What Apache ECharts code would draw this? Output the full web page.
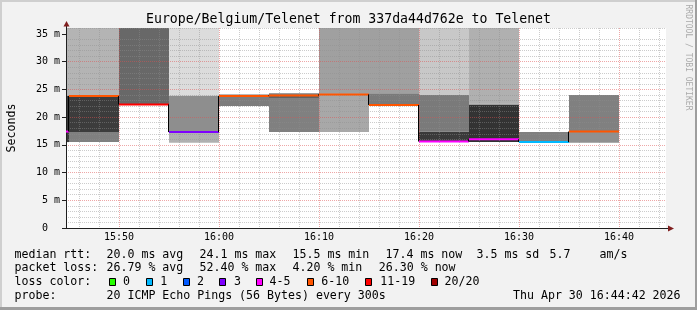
<!DOCTYPE html>
<html><head><meta charset="utf-8">
<script src="https://cdn.jsdelivr.net/npm/echarts@6/dist/echarts.min.js"></script>
<style>html,body{margin:0;padding:0;background:#f2f2f2}#c{width:697px;height:310px}</style>
</head><body><div id="c"></div>
<script>
// ---------------- data ----------------
const chartTitle = 'Europe/Belgium/Telenet from 337da44d762e to Telenet';
const yAxisTitle = 'Seconds';
const windowStart = '15:44:42';
const windowEnd = '16:44:42';
const yMaxMs = 36.08;
const stepMinutes = 5;
const segStart = ['15:40','15:45','15:50','15:55','16:00','16:05','16:10','16:15','16:20','16:25','16:30','16:35'];
const medianMs = [17.4, 23.8, 22.3, 17.3, 23.8, 23.9, 24.1, 22.2, 15.6, 16.0, 15.5, 17.4];
const lossPct  = [20, 30, 52.4, 14, 30, 28, 32, 35, 22, 20, 4.2, 26.3];
// smoke: ping-distribution band edges (ms) per step, and the grey density of each band
const smokeEdges = [
  [15.5, 23.9, 40],
  [15.5, 17.3, 23.9, 40],
  [22.3, 40],
  [15.4, 17.3, 23.9, 40],
  [22.0, 23.8, 24.1],
  [17.3, 23.3, 23.9, 24.3],
  [17.3, 24.0, 24.3, 40],
  [22.2, 24.3, 40],
  [15.6, 17.4, 24.0, 40],
  [15.5, 22.2, 22.5, 40],
  [15.5, 17.3],
  [15.4, 17.4, 24.0]
];
const smokeShade = [
  [0x3a, 0xb4],
  [0x80, 0x3c, 0xb4],
  [0x68],
  [0xb0, 0x8e, 0xdc],
  [0x7c, 0x74],
  [0x80, 0x60, 0x7c],
  [0xa8, 0x8c, 0xa0],
  [0x7a, 0xa0],
  [0x3a, 0x7a, 0xc8],
  [0x33, 0xa0, 0xb0],
  [0x80],
  [0x90, 0x80]
];
const lossLabels = ['0','1','2','3','4-5','6-10','11-19','20/20'];
const lossUpper  = [0, 1, 2, 3, 5, 10, 19, 20];
const lossColors = ['#26ff00','#00b8ff','#0059ff','#7e00ff','#ff00ff','#ff5500','#ff0000','#a00000'];
const pingsPerStep = 20;
const legendLines = [
  ['median rtt:', '20.0 ms avg', '24.1 ms max', '15.5 ms min', '17.4 ms now', '3.5 ms sd', '5.7', 'am/s'],
  ['packet loss:', '26.79 % avg', '52.40 % max', '4.20 % min', '26.30 % now'],
  ['loss color:'],
  ['probe:', '20 ICMP Echo Pings (56 Bytes) every 300s', 'Thu Apr 30 16:44:42 2026']
];
const watermark = 'RRDTOOL / TOBI OETIKER';

// ---------------- helpers ----------------
function toMin(s){ const p = s.split(':').map(Number); return p[0]*60 + p[1] + (p[2]||0)/60; }
function fmtMin(v){ const h = Math.floor(v/60), m = Math.round(v - h*60); return String(h).padStart(2,'0') + ':' + String(m).padStart(2,'0'); }
function lossIndex(pct){
  const n = pct/100*pingsPerStep;
  for (let i = 0; i < lossUpper.length; i++) if (n <= lossUpper[i]) return i;
  return lossUpper.length-1;
}

const xMin = toMin(windowStart), xMax = toMin(windowEnd);
const smokeData = [];
segStart.forEach((s, i) => {
  const t0 = toMin(s), e = smokeEdges[i];
  for (let k = 0; k < e.length - 1; k++) smokeData.push([t0, t0 + stepMinutes, e[k], e[k+1], smokeShade[i][k]]);
});
const medianData = segStart.map((s, i) => {
  const t0 = toMin(s);
  return [t0, t0 + stepMinutes, medianMs[i], i > 0 ? medianMs[i-1] : -1, lossIndex(lossPct[i])];
});

const MONO = 'DejaVu Sans Mono';
const chart = echarts.init(document.getElementById('c'), null, {renderer: 'canvas'});

// legend graphics
const colX = [14.5, 106.5, 199.5, 292.5, 385.5, 476.5, 549.5, 599.5];
const rowY = [254.5, 268, 282, 296];
const graphics = [];
// frame
graphics.push({type:'rect', shape:{x:0,y:0,width:697,height:2}, style:{fill:'#cfcfcf'}, silent:true});
graphics.push({type:'rect', shape:{x:0,y:0,width:2,height:310}, style:{fill:'#cfcfcf'}, silent:true});
graphics.push({type:'rect', shape:{x:0,y:307,width:697,height:3}, style:{fill:'#9e9e9e'}, silent:true});
graphics.push({type:'rect', shape:{x:695,y:0,width:2,height:310}, style:{fill:'#9e9e9e'}, silent:true});
legendLines.forEach((row, r) => {
  row.forEach((txt, c) => {
    let x = colX[c];
    if (r === 1 && c === 4) x = 378.8;
    if (r === 3 && c === 2) x = 513;
    graphics.push({type:'text', x: x, y: rowY[r], style:{text: txt, font: '11.6px "' + MONO + '"', fill:'#000', verticalAlign:'middle', align:'left'}, silent:true});
  });
});
const boxX = [109, 145.7, 182.7, 219.3, 256, 307, 365.3, 430.7];
const lblX = [123, 160.3, 197, 234, 269.5, 321.3, 380.3, 444.6];
lossLabels.forEach((l, i) => {
  graphics.push({type:'rect', shape:{x: Math.round(boxX[i]) + 0.5, y: 278.5, width: 6, height: 7}, style:{fill: lossColors[i], stroke:'#000', lineWidth:1}, silent:true});
  graphics.push({type:'text', x: lblX[i], y: rowY[2], style:{text: l, font: '11.6px "' + MONO + '"', fill:'#000', verticalAlign:'middle', align:'left'}, silent:true});
});
// watermark
graphics.push({type:'text', x: 688, y: 57.5, rotation: -Math.PI/2, style:{text: watermark, font: '8px "' + MONO + '"', fill:'#ababab', align:'center', verticalAlign:'middle'}, silent:true});
// axis arrows
graphics.push({type:'line', shape:{x1:66.5,y1:28,x2:66.5,y2:25}, style:{stroke:'#1f1f1f', lineWidth:1}, z:10, silent:true});
graphics.push({type:'polygon', shape:{points:[[63.5,26.5],[69.5,26.5],[66.5,21]]}, style:{fill:'#801f1f'}, z:10, silent:true});
graphics.push({type:'line', shape:{x1:666,y1:228.5,x2:669,y2:228.5}, style:{stroke:'#1f1f1f', lineWidth:1}, z:10, silent:true});
graphics.push({type:'polygon', shape:{points:[[668,225.5],[668,231.5],[674,228.5]]}, style:{fill:'#801f1f'}, z:10, silent:true});

const option = {
  animation: false,
  backgroundColor: '#f2f2f2',
  title: { text: chartTitle, left: 'center', top: 13.5, padding: 0,
    textStyle: { fontFamily: MONO, fontSize: 13.2, fontWeight: 'normal', color: '#000' } },
  grid: { left: 66, top: 28, width: 600, height: 200, show: true, backgroundColor: '#fff', borderWidth: 0,
    containLabel: false, outerBoundsMode: 'none' },
  xAxis: {
    type: 'value', min: xMin, max: xMax, splitNumber: 6, z: 3,
    axisLine: { show: true, lineStyle: { color: '#1f1f1f', width: 1 } },
    axisTick: { show: false },
    axisLabel: { formatter: v => fmtMin(v), showMinLabel: false, showMaxLabel: false, margin: 4,
      fontFamily: MONO, fontSize: 10, color: '#000' },
    splitLine: { show: true, showMinLine: false, showMaxLine: false, lineStyle: { color: 'rgba(222,79,79,0.5)', width: 1, type: [1, 1] } },
    minorTick: { show: false, splitNumber: 5 },
    minorSplitLine: { show: true, lineStyle: { color: 'rgba(143,143,143,0.45)', width: 1, type: [1, 1] } }
  },
  yAxis: {
    type: 'value', min: 0, max: yMaxMs, interval: 5, z: 3,
    name: yAxisTitle, nameLocation: 'middle', nameGap: 48, nameRotate: 90,
    nameTextStyle: { fontFamily: MONO, fontSize: 11.6, color: '#000' },
    axisLine: { show: true, lineStyle: { color: '#1f1f1f', width: 1 } },
    axisTick: { show: true, length: 4, customValues: [0,5,10,15,20,25,30,35], lineStyle: { color: '#1f1f1f' } },
    axisLabel: { formatter: v => v === 0 ? '0  ' : v + ' m', showMaxLabel: false, margin: 6,
      fontFamily: MONO, fontSize: 10, color: '#000' },
    splitLine: { show: true, showMinLine: false, showMaxLine: false, lineStyle: { color: 'rgba(222,79,79,0.5)', width: 1, type: [1, 1] } },
    minorTick: { show: false, splitNumber: 5 },
    minorSplitLine: { show: true, lineStyle: { color: 'rgba(143,143,143,0.45)', width: 1, type: [1, 1] } }
  },
  series: [
    {
      type: 'custom', name: 'smoke', z: 2, clip: true, silent: true,
      encode: { x: [0, 1], y: [2, 3] },
      data: smokeData,
      renderItem(params, api) {
        const t0 = Math.max(api.value(0), xMin), t1 = Math.min(api.value(1), xMax);
        const lo = Math.max(api.value(2), 0), hi = Math.min(api.value(3), yMaxMs);
        if (t1 <= t0 || hi <= lo) return null;
        const a = api.coord([t0, hi]), b = api.coord([t1, lo]);
        const g = api.value(4);
        return { type: 'rect', shape: { x: a[0], y: a[1], width: b[0] - a[0], height: b[1] - a[1] },
          style: { fill: 'rgb(' + g + ',' + g + ',' + g + ')' } };
      }
    },
    {
      type: 'custom', name: 'median', z: 5, clip: true, silent: true,
      encode: { x: [0, 1], y: [2] },
      data: medianData,
      renderItem(params, api) {
        const t0 = api.value(0), t1 = api.value(1), m = api.value(2), pm = api.value(3), ci = api.value(4);
        const ct0 = Math.max(t0, xMin);
        const a = api.coord([ct0, m]), b = api.coord([t1, m]);
        const children = [];
        if (pm >= 0 && t0 >= xMin) {
          const c = api.coord([t0, pm]);
          children.push({ type: 'line', shape: { x1: a[0] - 0.5, y1: c[1], x2: a[0] - 0.5, y2: a[1] }, style: { stroke: '#000', lineWidth: 1 } });
        }
        children.push({ type: 'line', shape: { x1: a[0], y1: a[1], x2: b[0], y2: b[1] }, style: { stroke: lossColors[ci], lineWidth: 2 } });
        return { type: 'group', children };
      }
    }
  ],
  graphic: graphics
};
chart.setOption(option);
</script>
</body></html>
